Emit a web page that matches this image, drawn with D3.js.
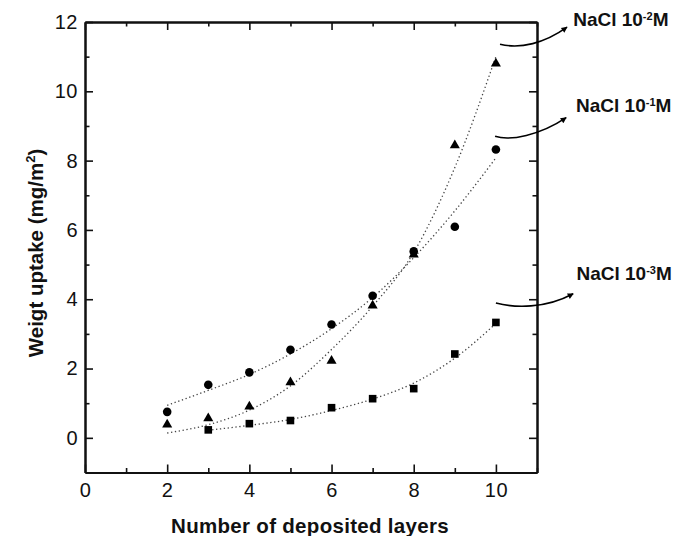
<!DOCTYPE html>
<html>
<head>
<meta charset="utf-8">
<script src="https://cdn.jsdelivr.net/npm/d3@7"></script>
<style>
  body { margin: 0; background: #fff; }
  svg { font-family: "Liberation Sans", Arial, sans-serif; }
  .tick text { font-size: 20px; fill: #111; letter-spacing: 0.5px; }
  .axis path, .axis line { stroke: #111; }
</style>
</head>
<body>
<svg id="chart"></svg>
<script>
// data
var layers = [2, 3, 4, 5, 6, 7, 8, 9, 10];
var nacl1 = [0.75, 1.53, 1.89, 2.54, 3.27, 4.1, 5.38, 6.09, 8.32];   // circles, 10^-1 M
var nacl2 = [0.38, 0.56, 0.9, 1.6, 2.22, 3.82, 5.29, 8.44, 10.8];   // triangles, 10^-2 M
var layers3 = [3, 4, 5, 6, 7, 8, 9, 10];
var nacl3 = [0.23, 0.41, 0.5, 0.87, 1.13, 1.42, 2.42, 3.33];        // squares, 10^-3 M

// fitted curves
var fit1 = [0.94, 1.37, 1.83, 2.42, 3.15, 4.05, 5.2, 6.55, 8.08];
var fit2 = [0.14, 0.38, 0.8, 1.5, 2.55, 3.8, 5.35, 7.8, 11.0];
var fit3 = [0.22, 0.36, 0.53, 0.79, 1.12, 1.58, 2.3, 3.3];

var xMajor = [0, 2, 4, 6, 8, 10];
var xMinor = [1, 3, 5, 7, 9, 11];
var yMajor = [0, 2, 4, 6, 8, 10, 12];
var yMinor = [1, 3, 5, 7, 9, 11];

// annotation arrows (data units): start, ctrl1, ctrl2, tip
var arrows = [
  [[10.1, 11.36], [10.59, 11.21], [11.19, 11.39], [11.73, 11.85]],
  [[9.98, 8.7], [10.34, 8.56], [11.07, 8.73], [11.71, 9.24]],
  [[10.0, 3.89], [10.46, 3.75], [11.19, 3.72], [11.88, 4.16]]
];
var labelPos = [[11.88, 11.88], [11.95, 9.39], [11.96, 4.55]];
var labelExp = ["-2", "-1", "-3"];

var screen = { width: 675, height: 536 };
var margins = { top: 22, bottom: 63.5, left: 85, right: 138 };
var graph = {
  width: screen.width - margins.left - margins.right,
  height: screen.height - margins.top - margins.bottom
};

var svg = d3.select("#chart").attr("width", screen.width).attr("height", screen.height);

var xScale = d3.scaleLinear().domain([0, 11]).range([0, graph.width]);
var yScale = d3.scaleLinear().domain([-1, 12]).range([graph.height, 0]);

var g = svg.append("g")
  .attr("transform", "translate(" + margins.left + "," + margins.top + ")");

//AXES//
var addAxis = function (axis, tx, ty) {
  return g.append("g")
    .classed("axis", true)
    .attr("transform", "translate(" + tx + "," + ty + ")")
    .call(axis)
    .call(function (s) {
      s.select(".domain").attr("stroke-width", 2);
      s.selectAll(".tick line").attr("stroke-width", 1.6);
    });
};

addAxis(d3.axisBottom(xScale).tickValues(xMajor).tickSizeInner(-8).tickSizeOuter(0).tickPadding(10), 0, graph.height);
addAxis(d3.axisBottom(xScale).tickValues(xMinor).tickSizeInner(-4.5).tickSizeOuter(0).tickFormat(""), 0, graph.height);
addAxis(d3.axisTop(xScale).tickValues(xMajor).tickSizeInner(-8).tickSizeOuter(0).tickFormat(""), 0, 0);
addAxis(d3.axisTop(xScale).tickValues(xMinor).tickSizeInner(-4.5).tickSizeOuter(0).tickFormat(""), 0, 0);
addAxis(d3.axisLeft(yScale).tickValues(yMajor).tickSizeInner(-8).tickSizeOuter(0).tickPadding(7), 0, 0);
addAxis(d3.axisLeft(yScale).tickValues(yMinor).tickSizeInner(-4.5).tickSizeOuter(0).tickFormat(""), 0, 0);
addAxis(d3.axisRight(yScale).tickValues(yMajor).tickSizeInner(-8).tickSizeOuter(0).tickFormat(""), graph.width, 0);
addAxis(d3.axisRight(yScale).tickValues(yMinor).tickSizeInner(-4.5).tickSizeOuter(0).tickFormat(""), graph.width, 0);

//FIT LINES//
var line = d3.line()
  .x(function (d) { return xScale(d[0]); })
  .y(function (d) { return yScale(d[1]); })
  .curve(d3.curveMonotoneX);

var fits = [d3.zip(layers, fit1), d3.zip(layers, fit2), d3.zip(layers3, fit3)];
g.selectAll("path.fit")
  .data(fits)
  .enter()
  .append("path")
  .classed("fit", true)
  .attr("d", line)
  .attr("fill", "none")
  .attr("stroke", "#444")
  .attr("stroke-width", 1.3)
  .attr("stroke-dasharray", "1.3,2.6");

//POINTS//
g.selectAll("circle.pt")
  .data(d3.zip(layers, nacl1))
  .enter()
  .append("circle")
  .classed("pt", true)
  .attr("cx", function (d) { return xScale(d[0]); })
  .attr("cy", function (d) { return yScale(d[1]); })
  .attr("r", 4.3)
  .attr("fill", "#000");

g.selectAll("path.tri")
  .data(d3.zip(layers, nacl2))
  .enter()
  .append("path")
  .classed("tri", true)
  .attr("d", d3.symbol().type(d3.symbolTriangle).size(44))
  .attr("transform", function (d) { return "translate(" + xScale(d[0]) + "," + yScale(d[1]) + ")"; })
  .attr("fill", "#000");

g.selectAll("rect.sq")
  .data(d3.zip(layers3, nacl3))
  .enter()
  .append("rect")
  .classed("sq", true)
  .attr("x", function (d) { return xScale(d[0]) - 3.8; })
  .attr("y", function (d) { return yScale(d[1]) - 3.8; })
  .attr("width", 7.6)
  .attr("height", 7.6)
  .attr("fill", "#000");

//ANNOTATIONS//
svg.append("defs").append("marker")
  .attr("id", "head")
  .attr("viewBox", "0 0 10 10")
  .attr("refX", 9)
  .attr("refY", 5)
  .attr("markerWidth", 10)
  .attr("markerHeight", 6)
  .attr("markerUnits", "userSpaceOnUse")
  .attr("orient", "auto")
  .append("path")
  .attr("d", "M0,0 L10,5 L0,10 Z")
  .attr("fill", "#000");

g.selectAll("path.arrow")
  .data(arrows)
  .enter()
  .append("path")
  .classed("arrow", true)
  .attr("d", function (a) {
    var p = a.map(function (d) { return [xScale(d[0]), yScale(d[1])]; });
    var path = d3.path();
    path.moveTo(p[0][0], p[0][1]);
    path.bezierCurveTo(p[1][0], p[1][1], p[2][0], p[2][1], p[3][0], p[3][1]);
    return path.toString();
  })
  .attr("fill", "none")
  .attr("stroke", "#000")
  .attr("stroke-width", 1.6)
  .attr("marker-end", "url(#head)");

var labels = g.selectAll("text.nacl")
  .data(labelPos)
  .enter()
  .append("text")
  .classed("nacl", true)
  .attr("x", function (d) { return xScale(d[0]); })
  .attr("y", function (d) { return yScale(d[1]); })
  .attr("font-size", "19px")
  .attr("font-weight", "bold")
  .attr("fill", "#111");
labels.append("tspan").text("NaCl 10");
labels.append("tspan")
  .attr("font-size", "11px")
  .attr("dy", "-6")
  .text(function (d, i) { return labelExp[i]; });
labels.append("tspan")
  .attr("dy", "6")
  .text("M");

//LABELS//
svg.append("text")
  .attr("text-anchor", "middle")
  .attr("x", margins.left + graph.width / 2 - 1)
  .attr("y", 533)
  .attr("font-size", "20.5px")
  .attr("font-weight", "bold")
  .attr("letter-spacing", "0.3px")
  .attr("fill", "#111")
  .text("Number of deposited layers");

var yl = svg.append("g")
  .attr("transform", "translate(43,253)")
  .append("text")
  .attr("text-anchor", "middle")
  .attr("transform", "rotate(-90)")
  .attr("font-size", "20.5px")
  .attr("font-weight", "bold")
  .attr("fill", "#111");
yl.append("tspan").text("Weigt uptake (mg/m");
yl.append("tspan").attr("font-size", "13px").attr("dy", "-8").text("2");
yl.append("tspan").attr("dy", "8").text(")");
</script>
</body>
</html>
